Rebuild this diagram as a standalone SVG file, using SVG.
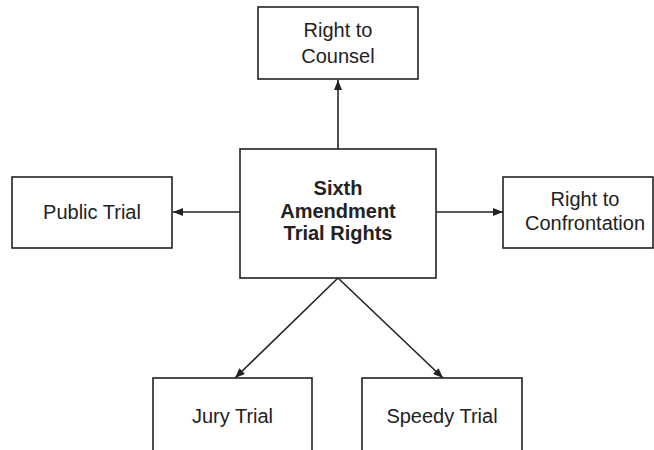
<svg xmlns="http://www.w3.org/2000/svg" width="654" height="450" viewBox="0 0 654 450">
  <style>
    .box { fill: #ffffff; stroke: #222222; stroke-width: 1.6; }
    .lbl { font-family: "Liberation Sans", Arial, sans-serif; font-size: 20px; fill: #222222; text-anchor: middle; }
    .bold { font-weight: bold; }
    .edge { fill: none; stroke: #222222; stroke-width: 1.6; marker-end: url(#head); }
  </style>
  <defs>
    <marker id="head" viewBox="0 0 10 8" refX="10" refY="4" markerWidth="10" markerHeight="8" markerUnits="userSpaceOnUse" orient="auto">
      <path d="M0,0 L10,4 L0,8 Z" fill="#222222"/>
    </marker>
  </defs>

  <g id="connectors">
    <line class="edge" x1="338" y1="149" x2="338" y2="80"/>
    <line class="edge" x1="240" y1="212" x2="173" y2="212"/>
    <line class="edge" x1="436" y1="212" x2="503" y2="212"/>
    <line class="edge" x1="338" y1="278" x2="235" y2="378"/>
    <line class="edge" x1="338" y1="278" x2="443" y2="378"/>
  </g>

  <g id="center">
    <rect class="box" x="240" y="149" width="196" height="129"/>
    <text class="lbl bold" x="338" y="195">Sixth</text>
    <text class="lbl bold" x="338" y="217.5">Amendment</text>
    <text class="lbl bold" x="338" y="240">Trial Rights</text>
  </g>

  <g id="counsel">
    <rect class="box" x="258" y="7" width="160" height="72"/>
    <text class="lbl" x="338" y="37">Right to</text>
    <text class="lbl" x="338" y="63">Counsel</text>
  </g>

  <g id="public">
    <rect class="box" x="12" y="177" width="160" height="71"/>
    <text class="lbl" x="92" y="219">Public Trial</text>
  </g>

  <g id="confrontation">
    <rect class="box" x="503" y="177" width="150" height="71"/>
    <text class="lbl" x="585" y="206">Right to</text>
    <text class="lbl" x="585" y="230">Confrontation</text>
  </g>

  <g id="jury">
    <rect class="box" x="153" y="378" width="159" height="80"/>
    <text class="lbl" x="232.5" y="423">Jury Trial</text>
  </g>

  <g id="speedy">
    <rect class="box" x="362" y="378" width="160" height="80"/>
    <text class="lbl" x="442" y="423">Speedy Trial</text>
  </g>
</svg>
